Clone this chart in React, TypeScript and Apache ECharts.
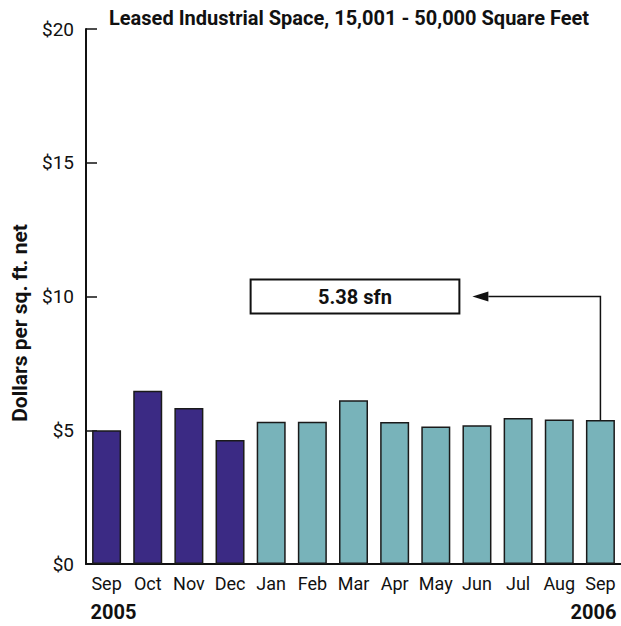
import React, { useEffect, useRef } from "react";
import * as echarts from "echarts";

const months = ["Sep", "Oct", "Nov", "Dec", "Jan", "Feb", "Mar", "Apr", "May", "Jun", "Jul", "Aug", "Sep"];
const values = [5.0, 6.48, 5.83, 4.64, 5.32, 5.32, 6.12, 5.31, 5.14, 5.19, 5.46, 5.4, 5.38];
const yearOf = [2005, 2005, 2005, 2005, 2006, 2006, 2006, 2006, 2006, 2006, 2006, 2006, 2006];
const yTicks = [0, 5, 10, 15, 20];
const titleText = "Leased Industrial Space, 15,001 - 50,000 Square Feet";
const yAxisTitle = "Dollars per sq. ft. net";
const calloutText = "5.38 sfn";
const calloutLevel = 10;
const startYear = "2005";
const endYear = "2006";

const FONT = "Roboto, 'Liberation Sans', sans-serif";
const PURPLE = "#3b2a84";
const TEAL = "#78b3ba";
const INK = "#111";

export default function App() {
  const ref = useRef<HTMLDivElement>(null);
  useEffect(() => {
    if (!ref.current) return;
    const chart = echarts.init(ref.current, null, { renderer: "svg" });
    const option: any = {
      animation: false,
      grid: { left: 86, top: 29, width: 538, height: 535 },
      xAxis: {
        type: "category",
        data: months,
        axisLine: { lineStyle: { color: INK, width: 2 } },
        axisTick: { show: false },
        axisLabel: { interval: 0, fontFamily: FONT, fontSize: 18, color: INK, margin: 10 },
      },
      yAxis: {
        type: "value",
        min: yTicks[0],
        max: yTicks[yTicks.length - 1],
        interval: 5,
        splitLine: { show: false },
        axisLine: { show: true, lineStyle: { color: INK, width: 2 } },
        axisTick: { show: true, inside: true, length: 11, lineStyle: { color: INK, width: 1.5 } },
        axisLabel: { fontFamily: FONT, fontSize: 19, color: INK, margin: 12, formatter: (v: number) => "$" + v },
      },
      series: [
        {
          type: "bar",
          barWidth: 29,
          data: values.map((v, i) => ({
            value: v,
            itemStyle: { color: yearOf[i] === 2005 ? PURPLE : TEAL, borderColor: "#1a1a1a", borderWidth: 1.5 },
          })),
        },
      ],
    };
    chart.setOption(option);

    const p = (i: number, v: number) => chart.convertToPixel({ gridIndex: 0 }, [i, v]) as number[];
    const c0 = p(0, 0);
    const c1 = p(1, 0);
    const cw = c1[0] - c0[0];
    const last = values.length - 1;
    const barTop = p(last, values[last]);
    const lvl = p(0, calloutLevel)[1];
    const boxLeft = p(4, 0)[0] - cw / 2;
    const boxRight = p(9, 0)[0] - cw / 2 + 3;
    const boxH = 34;
    const tipX = boxRight + 13;
    const headLen = 16;

    chart.setOption({
      graphic: [
        {
          type: "text",
          x: 109,
          y: 18,
          style: { text: titleText, fontFamily: FONT, fontWeight: "bold", fontSize: 20, fill: INK, verticalAlign: "middle" },
        },
        {
          type: "text",
          x: 20,
          y: 323,
          rotation: Math.PI / 2,
          style: {
            text: yAxisTitle,
            fontFamily: FONT,
            fontWeight: "bold",
            fontSize: 21,
            fill: INK,
            align: "center",
            verticalAlign: "middle",
          },
        },
        {
          type: "rect",
          shape: { x: boxLeft, y: lvl - boxH / 2, width: boxRight - boxLeft, height: boxH },
          style: { fill: "#fff", stroke: INK, lineWidth: 2 },
        },
        {
          type: "text",
          x: (boxLeft + boxRight) / 2,
          y: lvl,
          style: {
            text: calloutText,
            fontFamily: FONT,
            fontWeight: "bold",
            fontSize: 20,
            fill: INK,
            align: "center",
            verticalAlign: "middle",
          },
        },
        {
          type: "polyline",
          shape: { points: [[barTop[0], barTop[1]], [barTop[0], lvl], [tipX + headLen, lvl]] },
          style: { stroke: INK, lineWidth: 1.5, fill: "none" },
        },
        {
          type: "polygon",
          shape: { points: [[tipX, lvl], [tipX + headLen, lvl - 5], [tipX + headLen, lvl + 5]] },
          style: { fill: INK },
        },
        {
          type: "text",
          x: p(0, 0)[0] - 16,
          y: 612,
          style: { text: startYear, fontFamily: FONT, fontWeight: "bold", fontSize: 20, fill: INK, verticalAlign: "middle" },
        },
        {
          type: "text",
          x: p(last, 0)[0] + 16,
          y: 612,
          style: { text: endYear, fontFamily: FONT, fontWeight: "bold", fontSize: 20, fill: INK, align: "right", verticalAlign: "middle" },
        },
      ],
    });
    return () => chart.dispose();
  }, []);
  return <div ref={ref} style={{ position: "absolute", left: 0, top: 0, width: 621, height: 626 }} />;
}
